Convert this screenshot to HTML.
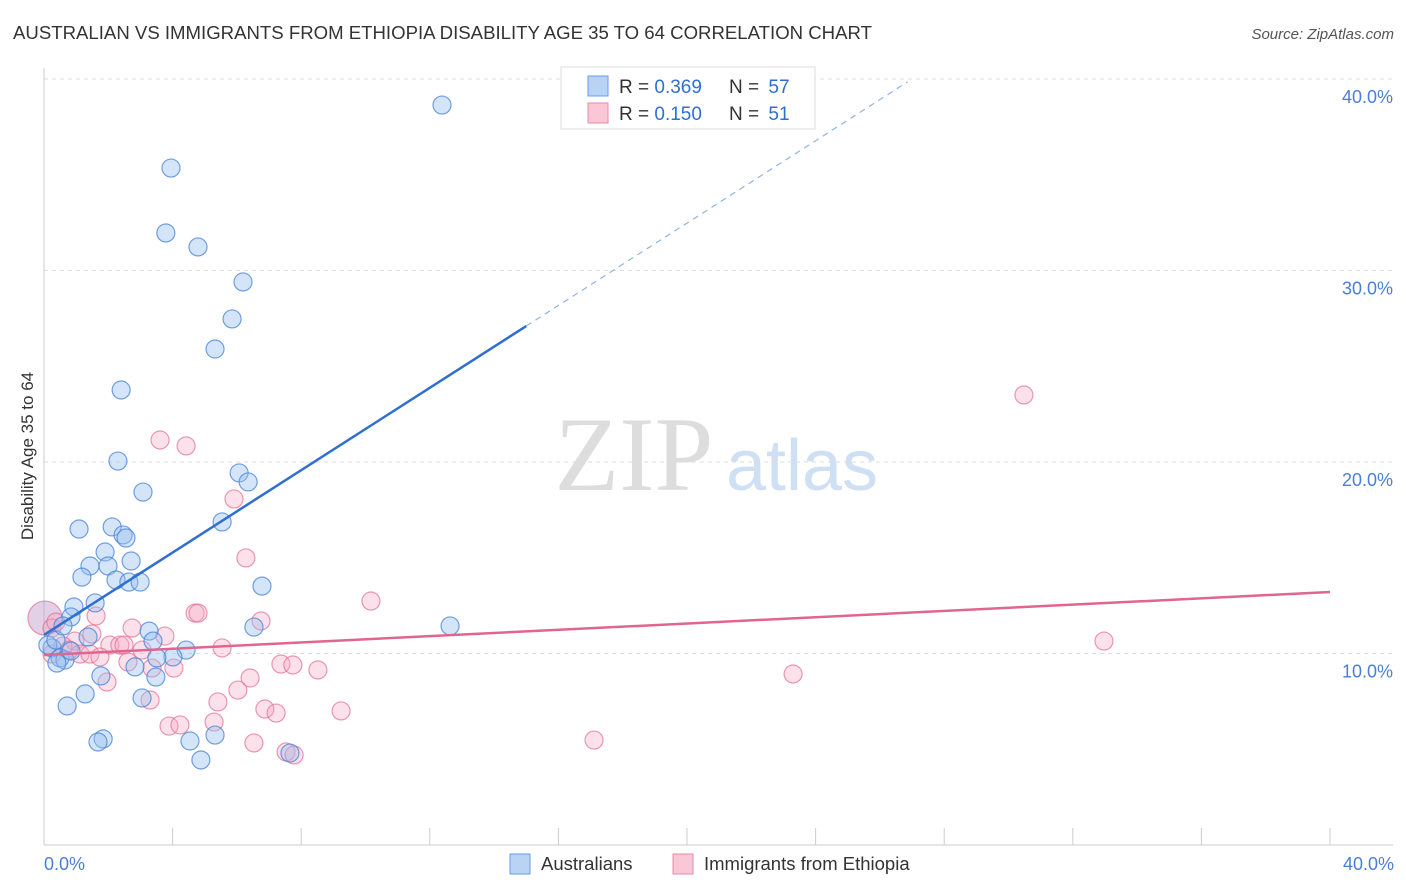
<!DOCTYPE html>
<html><head><meta charset="utf-8"><style>
body{margin:0;background:#fff;font-family:"Liberation Sans",sans-serif;}
svg{display:block}
</style></head><body>
<svg id="chart" width="1406" height="892" xmlns="http://www.w3.org/2000/svg">
<text x="13" y="39" font-size="18.6" fill="#333">AUSTRALIAN VS IMMIGRANTS FROM ETHIOPIA DISABILITY AGE 35 TO 64 CORRELATION CHART</text>
<text x="1394" y="39" font-size="15" fill="#555" font-style="italic" text-anchor="end">Source: ZipAtlas.com</text>
<g>
<text x="634" y="490" font-size="106" fill="#ddd" font-family="Liberation Serif,serif" text-anchor="middle">ZIP</text>
<text x="802" y="490" font-size="72" fill="#cfe0f5" text-anchor="middle">atlas</text>
</g>
<g id="grid"></g><g id="axes"></g><g id="pts"></g><g id="trends"></g>
<text transform="translate(33,456) rotate(-90)" font-size="17" fill="#333" text-anchor="middle">Disability Age 35 to 64</text>
<text x="44" y="870" font-size="18" fill="#4a7fd6">0.0%</text>
<text x="1394" y="870" font-size="18" fill="#4a7fd6" text-anchor="end">40.0%</text>
<g>
<rect x="561" y="67" width="254" height="62" fill="#fff" stroke="#ddd"/>
<rect x="588" y="76" width="20" height="20" fill="#b9d3f5" stroke="#6a9be0"/>
<rect x="588" y="103" width="20" height="20" fill="#f9c7d6" stroke="#e68aa8"/>
<text x="619" y="93" font-size="19" fill="#333">R = <tspan fill="#2f6fd1">0.369</tspan></text>
<text x="729" y="93" font-size="19" fill="#333">N = <tspan fill="#2f6fd1" dx="4">57</tspan></text>
<text x="619" y="120" font-size="19" fill="#333">R = <tspan fill="#2f6fd1">0.150</tspan></text>
<text x="729" y="120" font-size="19" fill="#333">N = <tspan fill="#2f6fd1" dx="4">51</tspan></text>
</g>
<g>
<rect x="510" y="854" width="20" height="20" fill="#b9d3f5" stroke="#6a9be0"/>
<text x="541" y="870" font-size="18.5" fill="#333">Australians</text>
<rect x="673" y="854" width="20" height="20" fill="#f9c7d6" stroke="#e68aa8"/>
<text x="704" y="870" font-size="18.5" fill="#333">Immigrants from Ethiopia</text>
</g>
</svg>
<script>
const yTicks=[10,20,30,40];
const yTickLabels=["10.0%","20.0%","30.0%","40.0%"];
const xTicks=[0,4,8,12,16,20,24,28,32,36,40];
const ausX=[12.38,3.95,3.79,4.79,6.19,5.85,5.32,2.40,2.30,3.08,6.07,6.35,5.54,1.09,2.12,2.46,2.55,1.90,2.71,1.99,1.43,1.18,2.24,2.64,2.99,6.78,1.59,0.93,0.84,12.63,6.53,3.27,3.39,1.37,4.42,0.25,4.01,3.51,0.50,0.65,0.40,2.83,1.77,3.48,1.28,3.05,0.72,5.32,4.54,1.84,1.68,4.88,7.65,0.12,0.37,0.59,0.84];
const ausY=[38.64,35.35,31.96,31.23,29.40,27.47,25.90,23.76,20.05,18.43,19.43,18.96,16.87,16.50,16.61,16.19,16.03,15.30,14.83,14.57,14.57,13.99,13.84,13.73,13.73,13.52,12.64,12.43,11.91,11.44,11.38,11.17,10.65,10.86,10.18,10.29,9.82,9.77,9.77,9.66,9.50,9.30,8.83,8.77,7.89,7.68,7.26,5.74,5.43,5.54,5.38,4.44,4.80,10.44,10.70,11.44,10.13];
const ethX=[30.48,32.97,23.30,17.11,3.61,4.42,5.91,6.28,10.17,4.70,4.79,6.75,1.62,2.74,3.76,1.49,0.96,2.05,2.36,2.49,5.54,3.05,1.12,1.43,1.74,0.25,4.04,2.61,3.36,7.37,7.74,8.52,6.41,6.03,1.96,5.41,3.30,5.29,3.89,4.23,6.87,7.22,9.24,6.53,7.53,7.78,0.03,0.25,0.37,0.59,0.78];
const ethY=[23.50,10.65,8.93,5.48,21.15,20.84,18.07,14.99,12.74,12.11,12.11,11.70,11.96,11.33,10.91,11.02,10.65,10.44,10.44,10.44,10.29,10.18,9.97,9.97,9.82,9.97,9.24,9.56,9.24,9.45,9.40,9.14,8.72,8.09,8.51,7.47,7.57,6.42,6.21,6.27,7.10,6.89,7.00,5.33,4.86,4.70,11.85,11.33,11.64,10.39,10.18];
const ausTrend=[10.97,27.1,39.85];
const ausTrendX=[0,15,26.86];
const ethTrend=[9.92,13.21];
const ethTrendX=[0,40];
const NS="http://www.w3.org/2000/svg";
const X=v=>44+v*32.15, Y=v=>845-v*19.15;
function mk(p,t,a){const e=document.createElementNS(NS,t);for(const k in a)e.setAttribute(k,a[k]);p.appendChild(e);return e;}
const grid=document.getElementById('grid'),axes=document.getElementById('axes'),pts=document.getElementById('pts'),tr=document.getElementById('trends');
yTicks.forEach((t,i)=>{
 const l=mk(grid,'line',{x1:44,x2:1393,y1:Y(t),y2:Y(t),stroke:'#ddd','stroke-dasharray':'4,4'});
 
 
 const tx=mk(grid,'text',{x:1393,y:Y(t)+24,'font-size':18,fill:'#4a7fd6','text-anchor':'end'});
 tx.textContent=yTickLabels[i];
 
 
});
const ax=mk(axes,'line',{x1:44,x2:1393,y1:845,y2:845,stroke:'#ccc'});


const ay=mk(axes,'line',{x1:44,x2:44,y1:68,y2:845,stroke:'#ccc'});


xTicks.forEach(t=>{const l=mk(axes,'line',{x1:X(t),x2:X(t),y1:828,y2:845,stroke:'#ccc'});
 
 });
function dot(x,y,r,f,s,n){const c=mk(pts,'circle',{cx:X(x),cy:Y(y),r:r,fill:f,stroke:s,'stroke-width':1.2});
 
 }
ethX.forEach((x,i)=>dot(x,ethY[i],i==46?17:9,i==46?'rgba(190,150,200,0.45)':'rgba(246,170,194,0.35)','rgba(226,110,148,0.7)','ethiopia-point'));
ausX.forEach((x,i)=>dot(x,ausY[i],9,'rgba(150,190,240,0.4)','rgba(70,130,215,0.75)','australians-point'));
const b1=mk(tr,'line',{x1:X(ausTrendX[0]),y1:Y(ausTrend[0]),x2:X(ausTrendX[1]),y2:Y(ausTrend[1]),stroke:'#2f6fd1','stroke-width':2.5});


const b2=mk(tr,'line',{x1:X(ausTrendX[1]),y1:Y(ausTrend[1]),x2:X(ausTrendX[2]),y2:Y(ausTrend[2]),stroke:'#8fb3e6','stroke-width':1.2,'stroke-dasharray':'6,5'});


const p1=mk(tr,'line',{x1:X(ethTrendX[0]),y1:Y(ethTrend[0]),x2:X(ethTrendX[1]),y2:Y(ethTrend[1]),stroke:'#e0668f','stroke-width':2.5});


</script>
</body></html>
